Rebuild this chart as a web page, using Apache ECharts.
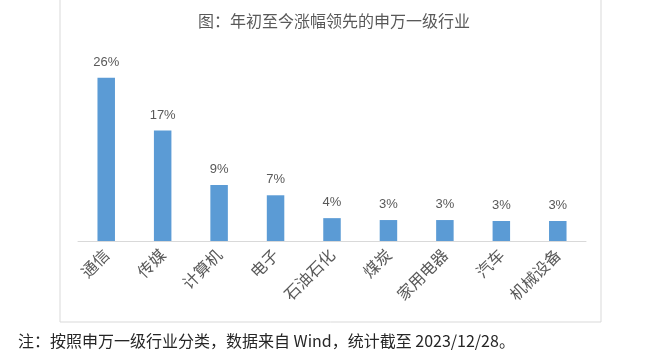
<!DOCTYPE html>
<html>
<head>
<meta charset="utf-8">
<script src="https://cdn.jsdelivr.net/npm/echarts@6/dist/echarts.min.js"></script>
<style>
html,body{margin:0;padding:0;background:#fff;}
#c{width:661px;height:352px;}
</style>
</head>
<body>
<div id="c"></div>
<script>
const titleText = '图：年初至今涨幅领先的申万一级行业';
const noteText = '注：按照申万一级行业分类，数据来自 Wind，统计截至 2023/12/28。';
const categories = ['通信', '传媒', '计算机', '电子', '石油石化', '煤炭', '家用电器', '汽车', '机械设备'];
const values = [25.7, 17.4, 8.8, 7.2, 3.6, 3.3, 3.3, 3.15, 3.15];

const chart = echarts.init(document.getElementById('c'), null, {renderer: 'canvas'});
const font = '"Noto Sans CJK SC", "Liberation Sans", sans-serif';
chart.setOption({
  animation: false,
  backgroundColor: '#ffffff',
  title: {
    text: titleText,
    left: 329, top: 8, textAlign: 'center',
    textStyle: {fontSize: 16, fontWeight: 'normal', color: '#595959', fontFamily: font}
  },
  graphic: [
    {type: 'rect', shape: {x: 60, y: -5, width: 541, height: 327}, style: {fill: 'none', stroke: '#d9d9d9', lineWidth: 1}, silent: true, z: -1},
    {type: 'text', left: 18, top: 333, style: {text: noteText, fill: '#262626', font: '16px "Noto Sans CJK SC", "Liberation Sans", sans-serif'}}
  ],
  grid: {left: 78, right: 75, top: 50.5, height: 190.5},
  xAxis: {
    type: 'category',
    data: categories,
    axisLine: {lineStyle: {color: '#d9d9d9', width: 1}},
    axisTick: {show: false},
    axisLabel: {rotate: 45, margin: 11, fontSize: 16, color: '#595959', fontFamily: font, interval: 0}
  },
  yAxis: {
    type: 'value', min: 0, max: 30, show: false,
    splitLine: {show: false}
  },
  series: [{
    type: 'bar',
    data: values,
    barWidth: 17.5,
    itemStyle: {color: '#5b9bd5'},
    label: {
      show: true, position: 'top', distance: 9,
      formatter: p => Math.round(p.value) + '%',
      fontSize: 13, color: '#595959', fontFamily: '"Liberation Sans", sans-serif'
    }
  }]
});
</script>
</body>
</html>
